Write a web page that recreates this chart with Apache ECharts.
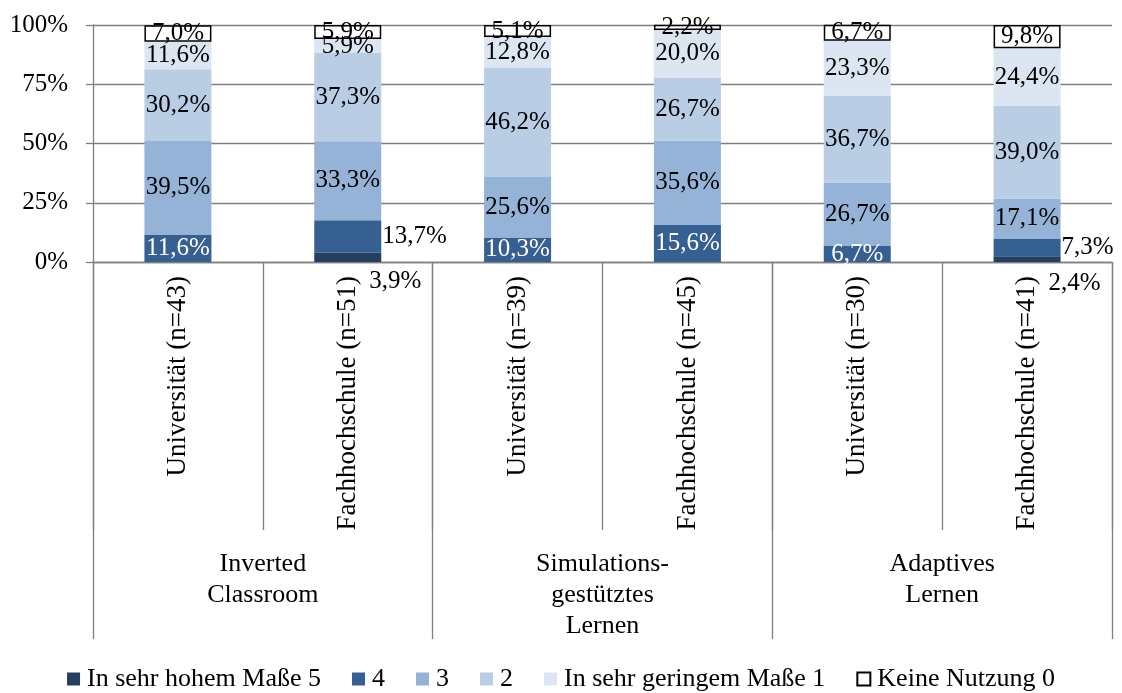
<!DOCTYPE html>
<html>
<head>
<meta charset="utf-8">
<script src="https://cdn.jsdelivr.net/npm/echarts@6/dist/echarts.min.js"></script>
<style>
html, body { margin: 0; padding: 0; background: #fff; }
#chart { width: 1122px; height: 693px; }
</style>
</head>
<body>
<div id="chart"></div>
<script>
// Kategorien (innere und äußere Ebene)
var bars = ['Universität (n=43)', 'Fachhochschule (n=51)', 'Universität (n=39)',
            'Fachhochschule (n=45)', 'Universität (n=30)', 'Fachhochschule (n=41)'];
var groups = ['Inverted\nClassroom', 'Simulations-\ngestütztes\nLernen', 'Adaptives\nLernen'];

// Anteile in %, von unten nach oben gestapelt
var level5 = [0, 3.9, 0, 0, 0, 2.4];
var level4 = [11.6, 13.7, 10.3, 15.6, 6.7, 7.3];
var level3 = [39.5, 33.3, 25.6, 35.6, 26.7, 17.1];
var level2 = [30.2, 37.3, 46.2, 26.7, 36.7, 39.0];
var level1 = [11.6, 5.9, 12.8, 20.0, 23.3, 24.4];
var level0 = [7.0, 5.9, 5.1, 2.2, 6.7, 9.8];

var seriesNames = ['In sehr hohem Maße 5', '4', '3', '2', 'In sehr geringem Maße 1', 'Keine Nutzung 0'];
var yTicks = [0, 25, 50, 75, 100];

var FONT = "'Liberation Serif', 'Times New Roman', serif";
var GRAY = '#7f7f7f';

var chart = echarts.init(document.getElementById('chart'));

function fmt(p) {
    if (!p.value) return '';
    return p.value.toFixed(1).replace('.', ',') + '%';
}

// Fachhochschule-Balken mit kleinen Segmenten: Beschriftung rechts außen
function withLabels(values, outside) {
    return values.map(function (v, i) {
        if (outside && outside[i]) {
            return { value: v, label: outside[i] };
        }
        return v;
    });
}

var below = { position: 'right', distance: 0, offset: [-12, 24], color: '#000' };
var beside = { position: 'right', distance: 1, color: '#000' };

var colors = ['#243F60', '#376092', '#95B3D7', '#B9CDE5', '#DCE6F2', '#FFFFFF'];
var data = [
    withLabels(level5, { 1: below, 5: below }),
    withLabels(level4, { 1: beside, 5: beside }),
    level3, level2, level1, level0
];

var series = seriesNames.map(function (name, k) {
    return {
        name: name,
        type: 'bar',
        stack: 'total',
        barWidth: 67,
        data: data[k],
        itemStyle: k === 5
            ? { color: '#fff', borderColor: '#000', borderWidth: 1.5 }
            : { color: colors[k] },
        label: {
            show: true,
            position: 'inside',
            formatter: fmt,
            fontFamily: FONT,
            fontSize: 25,
            color: k === 1 ? '#fff' : '#000'
        },
        emphasis: { disabled: true }
    };
});

var option = {
    animation: false,
    textStyle: { fontFamily: FONT },
    grid: { left: 93, right: 10, top: 25, bottom: 431, containLabel: false },
    legend: {
        top: 661,
        left: 'center',
        icon: 'rect',
        itemWidth: 13,
        itemHeight: 13,
        itemGap: 31,
        textStyle: { fontFamily: FONT, fontSize: 26, color: '#000', padding: [0, 0, 0, 2] },
        data: seriesNames
    },
    xAxis: [
        {
            type: 'category',
            position: 'bottom',
            data: bars,
            axisLine: { lineStyle: { color: GRAY, width: 1.3 } },
            axisTick: { show: true, interval: 0, length: 268, lineStyle: { color: GRAY, width: 1.3 } },
            axisLabel: {
                interval: 0,
                rotate: 90,
                margin: 14,
                fontFamily: FONT,
                fontSize: 27,
                color: '#000'
            }
        },
        {
            type: 'category',
            position: 'bottom',
            data: groups,
            axisLine: { show: false },
            axisTick: { show: true, interval: 0, length: 377, lineStyle: { color: GRAY, width: 1.3 } },
            axisLabel: {
                interval: 0,
                margin: 287,
                fontFamily: FONT,
                fontSize: 26,
                lineHeight: 31,
                color: '#000',
                align: 'center'
            }
        }
    ],
    yAxis: {
        type: 'value',
        min: yTicks[0],
        max: yTicks[yTicks.length - 1],
        interval: 25,
        axisLine: { show: true, lineStyle: { color: GRAY, width: 1.3 } },
        axisTick: { show: true, length: 7, lineStyle: { color: GRAY, width: 1.3 } },
        splitLine: { show: true, lineStyle: { color: GRAY, width: 1.3 } },
        axisLabel: {
            margin: 25,
            formatter: '{value}%',
            fontFamily: FONT,
            fontSize: 25,
            color: '#000'
        }
    },
    series: series
};

chart.setOption(option);
</script>
</body>
</html>
